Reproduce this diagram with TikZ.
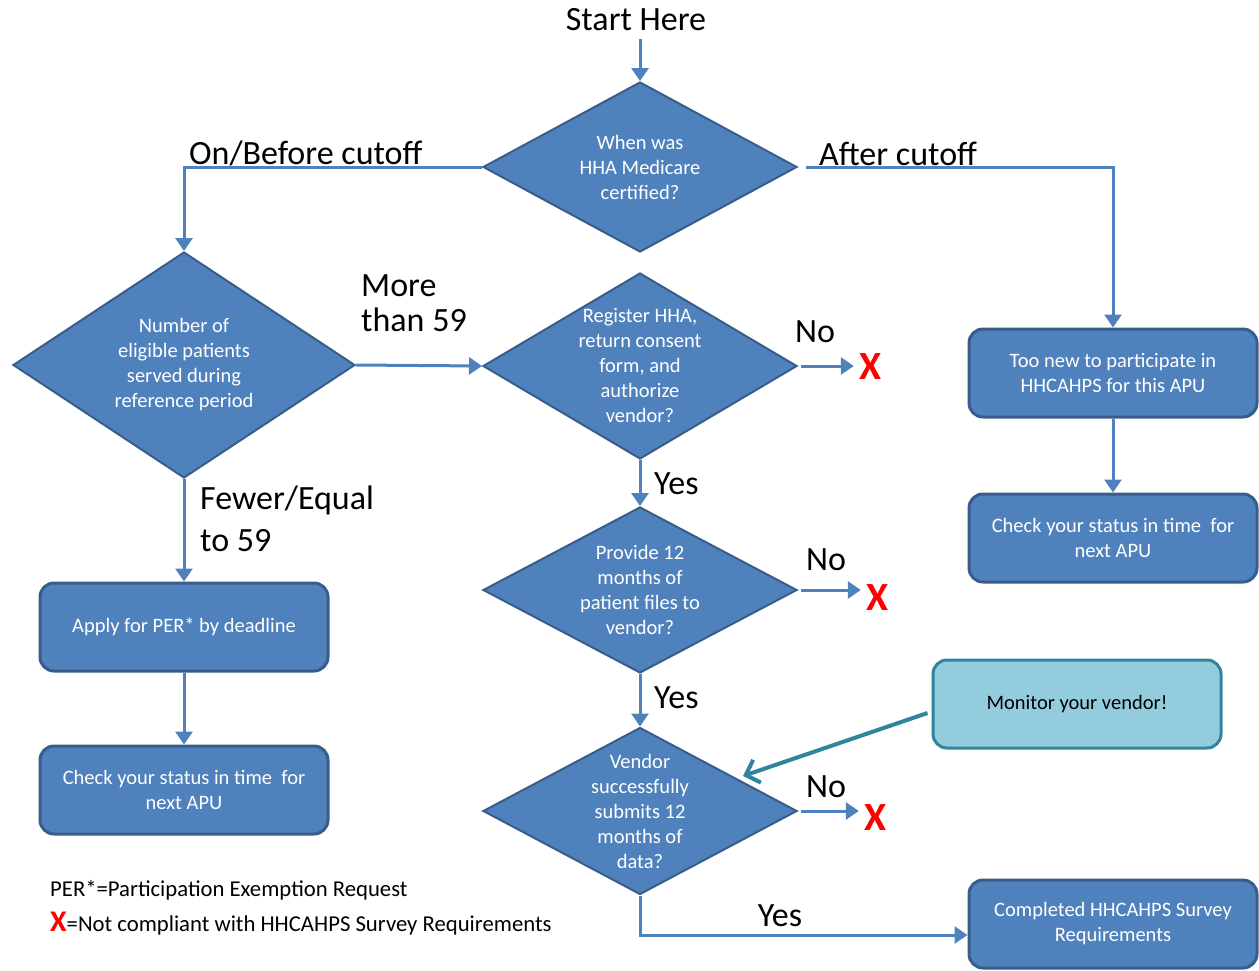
\documentclass[tikz,border=0pt]{standalone}
\usepackage{fontspec}
\setmainfont{Carlito}
\usetikzlibrary{shapes.geometric,arrows.meta}
\definecolor{nodefill}{HTML}{4F81BD}
\definecolor{nodeline}{HTML}{385D8A}
\definecolor{mfill}{HTML}{93CDDD}
\definecolor{mline}{HTML}{31849B}
\definecolor{xred}{HTML}{FF0000}
\begin{document}
\begin{tikzpicture}[x=1pt,y=-1pt,
  dia/.style={diamond, draw=nodeline, fill=nodefill, line width=2pt, inner sep=0pt, aspect=1},
  dtext/.style={text=white, align=center, inner sep=0pt, font=\fontsize{20.5}{25}\selectfont},
  pbox/.style={rectangle, rounded corners=14pt, draw=nodeline, fill=nodefill, line width=3pt,
    text=white, align=center, font=\fontsize{20.5}{25}\selectfont, minimum width=288pt, minimum height=88pt, inner sep=0pt},
  mbox/.style={pbox, draw=mline, fill=mfill, text=black},
  flow/.style={draw=nodefill, line width=3pt, -{Triangle[length=13pt,width=17pt]}},
  lbl/.style={font=\fontsize{34}{36}\selectfont, inner sep=0pt, align=left},
  xmark/.style={text=xred, font=\fontsize{40}{40}\selectfont\bfseries, inner sep=0pt},
  legend/.style={font=\fontsize{22.7}{25}\selectfont, inner sep=0pt, anchor=west}
]
\useasboundingbox (0,0) rectangle (1259,970);

% Start
\node[lbl] (start) at (636,20) {Start Here};

% Diamonds
\node[dia, minimum width=314pt, minimum height=170pt] (d1) at (640,167) {};
\node[dtext] at (d1.center) {When was\\HHA Medicare\\certified?};

\node[dia, minimum width=342pt, minimum height=226pt] (d2) at (184,365) {};
\node[dtext] at (d2.center) {Number of\\eligible patients\\served during\\reference period};

\node[dia, minimum width=314pt, minimum height=186pt] (d3) at (640,366) {};
\node[dtext] at (d3.center) {Register HHA,\\return consent\\form, and\\authorize\\vendor?};

\node[dia, minimum width=314pt, minimum height=166pt] (d4) at (640,590) {};
\node[dtext] at (d4.center) {Provide 12\\months of\\patient files to\\vendor?};

\node[dia, minimum width=314pt, minimum height=167pt] (d5) at (640,811) {};
\node[dtext] at (d5.center) {Vendor\\successfully\\submits 12\\months of\\data?};

% Boxes
\node[pbox] (a) at (184,627) {Apply for PER* by deadline};
\node[pbox] (b) at (184,790) {Check your status in time\ \ for\\next APU};
\node[pbox] (t1) at (1113,373) {Too new to participate in\\HHCAHPS for this APU};
\node[pbox] (t2) at (1113,538) {Check your status in time\ \ for\\next APU};
\node[pbox] (c) at (1113,924) {Completed HHCAHPS Survey\\Requirements};
\node[mbox] (m) at (1077,704) {Monitor your vendor!};

% X marks
\node[xmark] (x1) at (871,367) {X};
\node[xmark] (x2) at (878,598) {X};
\node[xmark] (x3) at (876,818) {X};

% Connectors
\draw[flow, shorten <=8pt] (start.south -| d1.north) -- (d1.north);
\draw[flow] (d1.west) -| (d2.north);
\draw[flow] ([xshift=8pt]d1.east) -| (t1.north);
\draw[flow] (d2.east) -- (d3.west);
\draw[flow] (d2.south) -- (a.north);
\draw[flow] (a.south) -- (b.north);
\draw[flow] (t1.south) -- (t2.north);
\draw[flow] (d3.south) -- (d4.north);
\draw[flow] (d4.south) -- (d5.north);
\draw[flow] (d5.south) |- ([yshift=-11pt]c.west);
\draw[flow, shorten >=6pt] ([xshift=3pt]d3.east) -- (x1.west |- d3.east);
\draw[flow, shorten >=6pt] ([xshift=3pt]d4.east) -- (x2.west |- d4.east);
\draw[flow, shorten >=6pt] ([xshift=3pt]d5.east) -- (x3.west |- d5.east);
\coordinate (mtip) at (743,776);
\draw[draw=mline, line width=4pt, -{Straight Barb[length=12pt,width=24pt]}] ([yshift=-9pt,xshift=-4pt]m.west) -- (mtip);

% Labels
\node[lbl, anchor=west] (lon) at (189,153) {On/Before cutoff};
\node[lbl, anchor=west] (laft) at (819,154) {After cutoff};
\node[lbl, anchor=west, font=\fontsize{34}{35}\selectfont] (lmore) at (361,303) {More\\than 59};
\node[lbl, anchor=west, font=\fontsize{34}{42}\selectfont] (lfew) at (200,519) {Fewer/Equal\\to 59};
\node[lbl] (no1) at (815,332) {No};
\node[lbl] (no2) at (826,560) {No};
\node[lbl] (no3) at (826,787) {No};
\node[lbl, anchor=west] (yes1) at (654,484) {Yes};
\node[lbl, anchor=west] (yes2) at (654,698) {Yes};
\node[lbl] (yes3) at (780,916) {Yes};

% Legend
\node[legend] (leg1) at (50,890) {PER*=Participation Exemption Request};
\node[legend] (leg2) at (50,924) {{\color{xred}\bfseries\fontsize{30}{30}\selectfont X}=Not compliant with HHCAHPS Survey Requirements};
\end{tikzpicture}
\end{document}
